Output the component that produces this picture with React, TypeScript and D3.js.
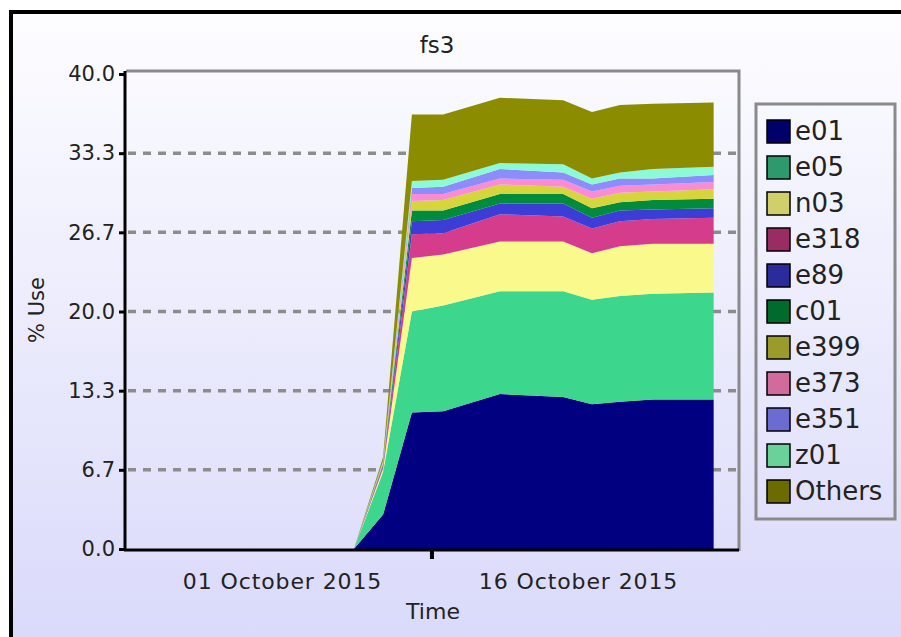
import { useRef, useEffect } from 'react';
import * as d3 from 'd3';

// series, bottom to top of the stack
const seriesNames = ['e01', 'e05', 'n03', 'e318', 'e89', 'c01', 'e399', 'e373', 'e351', 'z01', 'Others'];
const timestamps = [
  '2015-10-04T15:30', '2015-10-06T03:00', '2015-10-07T14:00', '2015-10-09T04:00', '2015-10-12T01:00',
  '2015-10-15T06:00', '2015-10-16T17:00', '2015-10-18T03:00', '2015-10-19T19:00', '2015-10-22T21:00'
];
const e01 = [0, 2.9, 11.5, 11.6, 13.05, 12.8, 12.2, 12.4, 12.6, 12.6];
const e05 = [0, 3.6, 8.5, 8.9, 8.65, 8.9, 8.8, 8.9, 8.9, 9.0];
const n03 = [0, 0.3, 4.5, 4.3, 4.2, 4.2, 3.9, 4.2, 4.2, 4.1];
const e318 = [0, 0.15, 2.0, 1.8, 2.3, 2.1, 2.1, 2.1, 2.1, 2.2];
const e89 = [0, 0.1, 1.1, 1.1, 0.9, 1.1, 0.9, 0.9, 0.8, 0.8];
const c01 = [0, 0.1, 0.9, 0.8, 0.8, 0.8, 0.8, 0.7, 0.8, 0.8];
const e399 = [0, 0.1, 0.8, 0.9, 0.8, 0.6, 0.8, 0.8, 0.7, 0.8];
const e373 = [0, 0.1, 0.6, 0.5, 0.5, 0.6, 0.6, 0.6, 0.6, 0.6];
const e351 = [0, 0.05, 0.5, 0.6, 0.8, 0.6, 0.6, 0.6, 0.5, 0.6];
const z01 = [0, 0.05, 0.6, 0.6, 0.5, 0.7, 0.5, 0.5, 0.8, 0.7];
const others = [0, 0.3, 5.6, 5.5, 5.5, 5.4, 5.6, 5.7, 5.5, 5.4];
const seriesValues = [e01, e05, n03, e318, e89, c01, e399, e373, e351, z01, others];

const yTicks = [0, 6.667, 13.333, 20, 26.667, 33.333, 40];
const xTickLabels = ['2015-10-01', '2015-10-16'];
const xMarkerTick = '2015-10-08T14:24';
const xDomain = ['2015-09-23T02:17', '2015-10-24T03:50'];

const areaColors = ['#000080', '#3cd68c', '#fafa8c', '#d63c8c', '#3c3cd6', '#008c3c', '#d6d63c', '#fa8cd6', '#8c8cfa', '#8cfad6', '#8c8c00'];
const legendColors = ['#00006a', '#2e9a6c', '#d1cf6b', '#9b2b63', '#2b2b9b', '#006b2b', '#9b9b2b', '#d16b9b', '#6b6bd1', '#6bd19b', '#6b6b00'];

const W = 901;
const H = 637;
const FONT = '"DejaVu Sans", sans-serif';

const App = () => {
  const svgRef = useRef<SVGSVGElement>(null);

  useEffect(() => {
    if (!svgRef.current) return;
    const svg = d3.select(svgRef.current);
    svg.selectAll('*').remove();

    const left = 126, right = 739, top = 71, bottom = 549;
    const parseT = d3.timeParse('%Y-%m-%dT%H:%M');
    const parseD = d3.timeParse('%Y-%m-%d');

    const rows = timestamps.map((t, i) => {
      const row: any = { date: parseT(t) };
      seriesNames.forEach((name, k) => { row[name] = seriesValues[k][i]; });
      return row;
    });

    const x = d3.scaleTime()
      .domain(xDomain.map(d => parseT(d) as Date))
      .range([left, right]);
    const y = d3.scaleLinear().domain([0, 40]).range([bottom, 74]);

    // background
    const defs = svg.append('defs');
    const grad = defs.append('linearGradient')
      .attr('id', 'bg').attr('x1', 0).attr('y1', 0).attr('x2', 0).attr('y2', 1);
    grad.append('stop').attr('offset', '0%').attr('stop-color', '#fdfdff');
    grad.append('stop').attr('offset', '100%').attr('stop-color', '#d6d6fa');

    svg.append('rect').attr('width', W).attr('height', H).attr('fill', '#ffffff');
    svg.append('rect')
      .attr('x', 11).attr('y', 12).attr('width', W + 50).attr('height', H + 50)
      .attr('fill', 'url(#bg)').attr('stroke', '#000').attr('stroke-width', 4);

    // grid
    svg.append('g')
      .selectAll('line')
      .data(yTicks.filter(t => t > 0 && t < 40))
      .enter()
      .append('line')
      .attr('x1', left + 2).attr('x2', right)
      .attr('y1', d => y(d)).attr('y2', d => y(d))
      .attr('stroke', '#8c8c8c').attr('stroke-width', 3.5)
      .attr('stroke-dasharray', '8,7');

    // stacked areas
    const stack = d3.stack<any>().keys(seriesNames);
    const layers = stack(rows);
    const area = d3.area<any>()
      .x(d => x(d.data.date))
      .y0(d => y(d[0]))
      .y1(d => y(d[1]));

    svg.append('g')
      .selectAll('path')
      .data(layers)
      .enter()
      .append('path')
      .attr('fill', (_, i) => areaColors[i])
      .attr('d', area);

    // plot frame
    svg.append('path')
      .attr('d', `M${left},${top}H${right}V${bottom + 2}`)
      .attr('fill', 'none').attr('stroke', '#8a8a8a').attr('stroke-width', 3);

    // y axis
    const yAxis = svg.append('g')
      .attr('transform', `translate(${left - 1},0)`)
      .call(d3.axisLeft(y).tickValues(yTicks).tickFormat(d3.format('.1f')).tickSize(6).tickPadding(4));
    yAxis.select('.domain').attr('d', `M0,${top}V${bottom + 2}`).attr('stroke', '#000').attr('stroke-width', 3);
    yAxis.selectAll('.tick line').attr('stroke', '#000').attr('stroke-width', 3);
    yAxis.selectAll('.tick text')
      .attr('font-family', FONT).attr('font-size', 21).attr('fill', '#222');

    // x axis
    const xAxis = svg.append('g')
      .attr('transform', `translate(0,${bottom + 1})`)
      .call(d3.axisBottom(x)
        .tickValues(xTickLabels.map(d => parseD(d) as Date))
        .tickFormat(d3.timeFormat('%d %B %Y') as any)
        .tickSize(0).tickPadding(23));
    xAxis.select('.domain').attr('d', `M${left - 2},0H${right}`).attr('stroke', '#000').attr('stroke-width', 3);
    xAxis.selectAll('.tick text')
      .attr('font-family', FONT).attr('font-size', 22).attr('letter-spacing', 0.9).attr('fill', '#222');

    const mx = x(parseT(xMarkerTick) as Date);
    svg.append('line')
      .attr('x1', mx).attr('x2', mx).attr('y1', bottom + 1).attr('y2', bottom + 10)
      .attr('stroke', '#000').attr('stroke-width', 4);

    // labels
    svg.append('text')
      .attr('x', 437).attr('y', 53).attr('text-anchor', 'middle')
      .attr('font-family', FONT).attr('font-size', 23).attr('fill', '#222')
      .text('fs3');
    svg.append('text')
      .attr('x', 433).attr('y', 619).attr('text-anchor', 'middle')
      .attr('font-family', FONT).attr('font-size', 22).attr('fill', '#222')
      .text('Time');
    svg.append('text')
      .attr('transform', `translate(44,${(top + bottom) / 2}) rotate(-90)`)
      .attr('text-anchor', 'middle')
      .attr('font-family', FONT).attr('font-size', 21).attr('fill', '#222')
      .text('% Use');

    // legend
    const legend = svg.append('g');
    legend.append('rect')
      .attr('x', 756).attr('y', 104).attr('width', 139).attr('height', 415)
      .attr('fill', 'none').attr('stroke', '#8a8a8a').attr('stroke-width', 3);
    const item = legend.selectAll('g.item')
      .data(seriesNames)
      .enter()
      .append('g')
      .attr('class', 'item')
      .attr('transform', (_, i) => `translate(767,${120 + i * 36})`);
    item.append('rect')
      .attr('width', 23).attr('height', 23)
      .attr('fill', (_, i) => legendColors[i])
      .attr('stroke', '#000').attr('stroke-width', 1.5);
    item.append('text')
      .attr('x', 28).attr('y', 20)
      .attr('font-family', FONT).attr('font-size', 26).attr('fill', '#222')
      .text(d => d);
  }, []);

  return (
    <svg
      ref={svgRef}
      width={W}
      height={H}
      style={{ position: 'absolute', left: 0, top: 0 }}
    />
  );
};

export default App;
